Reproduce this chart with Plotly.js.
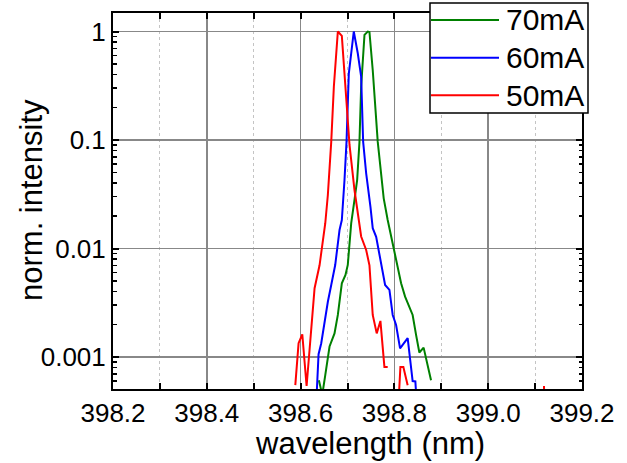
<!DOCTYPE html>
<html>
<head>
<meta charset="utf-8">
<script src="https://cdn.plot.ly/plotly-3.0.1.min.js"></script>
<style>
html,body{margin:0;padding:0;background:#fff;}
#chart{width:627px;height:463px;}
</style>
</head>
<body>
<div id="chart"></div>
<script>
// ---- data ----
var seriesNames = ["70mA", "60mA", "50mA"];
var seriesColors = ["#008000", "#0000ff", "#ff0000"];

var wl70 = [398.6389, 398.6462, 398.6526, 398.6617, 398.6723, 398.6794, 398.6879, 398.6957, 398.7006, 398.7079, 398.7149, 398.7206, 398.7255, 398.7291, 398.7362, 398.7432, 398.7468, 398.7538, 398.7645, 398.7717, 398.7772, 398.7857, 398.7964, 398.8053, 398.8143, 398.8228, 398.8298, 398.8389, 398.8462, 398.8532, 398.8623, 398.8781];
var int70 = [0.00061, 0.00045, 0.00068, 0.00125, 0.00165, 0.00244, 0.00478, 0.0057, 0.00705, 0.0171, 0.028, 0.0428, 0.096, 0.31, 0.93, 1.0, 0.99, 0.442, 0.096, 0.0459, 0.029, 0.0183, 0.0112, 0.00705, 0.00478, 0.0036, 0.00306, 0.00244, 0.0016, 0.0011, 0.00122, 0.00061];

var wl60 = [398.633, 398.6383, 398.6440, 398.6511, 398.6581, 398.6653, 398.6738, 398.6830, 398.6879, 398.6936, 398.6979, 398.7028, 398.7079, 398.7134, 398.7219, 398.7291, 398.7334, 398.7398, 398.7489, 398.7538, 398.7611, 398.7717, 398.7802, 398.7894, 398.7964, 398.8036, 398.8121, 398.8283, 398.8389, 398.8447, 398.849];
var int60 = [0.00035, 0.00106, 0.00134, 0.00211, 0.00323, 0.00461, 0.00704, 0.0148, 0.0183, 0.0428, 0.096, 0.41, 0.63, 1.0, 0.63, 0.383, 0.096, 0.0493, 0.0243, 0.0154, 0.0128, 0.00705, 0.00461, 0.00415, 0.00244, 0.00197, 0.0012, 0.00149, 0.0006, 0.000595, 0.0003];

var wl50 = [398.580, 398.5887, 398.5957, 398.6036, 398.6128, 398.6298, 398.6404, 398.6526, 398.6581, 398.6653, 398.6709, 398.6794, 398.6879, 398.7043, 398.7149, 398.7291, 398.7398, 398.7468, 398.7538, 398.7623, 398.7702, 398.7787, 398.7857, 398.7944, 398.8091, 398.8128, 398.8191, 398.8283, 398.837, 399.119, 399.128];
var int50 = [null, 0.00055, 0.00134, 0.00162, 0.00054, 0.0043, 0.0070, 0.0171, 0.0311, 0.096, 0.31, 1.0, 0.91, 0.09, 0.0346, 0.0129, 0.0097, 0.0070, 0.00244, 0.00165, 0.00215, 0.00081, 0.00081, null, 0.0004, 0.00081, 0.00081, 0.00055, null, 0.00054, 0.000001];

var yTickVals = [0.001, 0.01, 0.1, 1];
var yTickText = ["0.001", "0.01", "0.1", "1"];
var xTitle = "wavelength (nm)";
var yTitle = "norm. intensity";

// ---- build ----
var xs = [wl70, wl60, wl50];
var ys = [int70, int60, int50];
var traces = [];
for (var i = 0; i < 3; i++) {
  traces.push({
    type: "scatter", mode: "lines", name: seriesNames[i],
    x: xs[i], y: ys[i], connectgaps: false, showlegend: false,
    line: {color: seriesColors[i], width: 2}
  });
}

var minorY = [];
for (var e = -4; e <= 0; e++) {
  for (var m = 2; m <= 9; m++) minorY.push(m * Math.pow(10, e));
}

var L = 113, R = 582, T = 13, B = 389;
function px(x) { return (x - L) / (R - L); }
function py(y) { return (B - y) / (B - T); }

var fam = "Arial, Liberation Sans, sans-serif";
var shapes = [
  {type: "rect", xref: "paper", yref: "paper", x0: px(430), x1: px(588), y0: py(113), y1: py(3),
   line: {color: "#000", width: 1.5}, fillcolor: "#fff", layer: "above"}
];
var annotations = [];
var legY = [20, 57.7, 95.3];
for (var k = 0; k < 3; k++) {
  shapes.push({type: "line", xref: "paper", yref: "paper", x0: px(431), x1: px(499), y0: py(legY[k]), y1: py(legY[k]),
    line: {color: seriesColors[k], width: 2}, layer: "above"});
  annotations.push({xref: "paper", yref: "paper", x: px(504), y: py(legY[k]), xanchor: "left", yanchor: "middle",
    text: seriesNames[k], showarrow: false, font: {family: fam, size: 30, color: "#000"}});
}
annotations.push({xref: "paper", yref: "paper", x: px(370), y: py(443), xanchor: "center", yanchor: "middle",
  text: xTitle, showarrow: false, font: {family: fam, size: 31, color: "#000"}});
annotations.push({xref: "paper", yref: "paper", x: px(31), y: py(200), xanchor: "center", yanchor: "middle",
  textangle: -90, text: yTitle, showarrow: false, font: {family: fam, size: 31, color: "#000"}});

var layout = {
  width: 627, height: 463,
  margin: {l: L, r: 627 - R, t: T, b: 463 - B, pad: 0},
  paper_bgcolor: "#fff", plot_bgcolor: "#fff",
  font: {family: fam, color: "#000"},
  showlegend: false,
  xaxis: {
    range: [398.2, 399.2], dtick: 0.2, tick0: 398.2, tickformat: ".1f",
    ticks: "inside", ticklen: 6, tickwidth: 2, tickcolor: "#000",
    showline: true, linecolor: "#000", linewidth: 2, mirror: "allticks",
    showgrid: true, gridcolor: "#888888", gridwidth: 1.5,
    zeroline: false,
    tickfont: {family: fam, size: 26, color: "#000"},
    minor: {dtick: 0.1, tick0: 398.2, ticks: "inside", ticklen: 6, tickwidth: 2, tickcolor: "#000",
            showgrid: true, gridcolor: "#c4c4c4", gridwidth: 1, griddash: "dot"}
  },
  yaxis: {
    type: "log", range: [-3.295, 0.1705],
    tickmode: "array", tickvals: yTickVals, ticktext: yTickText,
    ticks: "inside", ticklen: 6, tickwidth: 2, tickcolor: "#000",
    showline: true, linecolor: "#000", linewidth: 2, mirror: "allticks",
    showgrid: true, gridcolor: "#888888", gridwidth: 1.5,
    zeroline: false, ticklabelstandoff: 0,
    tickfont: {family: fam, size: 26, color: "#000"},
    minor: {tickmode: "array", tickvals: minorY, ticks: "inside", ticklen: 3.5, tickwidth: 1.5, tickcolor: "#000", showgrid: false}
  },
  shapes: shapes,
  annotations: annotations
};

Plotly.newPlot("chart", traces, layout, {staticPlot: true, displayModeBar: false});
</script>
</body>
</html>
